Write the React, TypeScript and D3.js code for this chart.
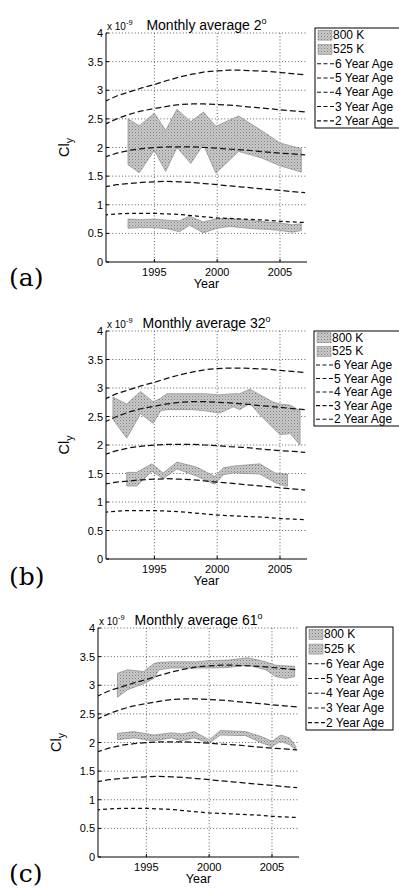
import React from "react";
import * as d3 from "d3";

// ---------- shared data ----------
const ageYears = [1991,1992,1993,1994,1995,1996,1997,1998,1999,2000,2001,2002,2003,2004,2005,2006,2007];
const age6 = [2.80,2.90,2.97,3.04,3.10,3.17,3.23,3.28,3.32,3.34,3.35,3.35,3.34,3.33,3.31,3.29,3.27];
const age5 = [2.40,2.50,2.58,2.64,2.68,2.72,2.75,2.76,2.76,2.75,2.74,2.72,2.70,2.68,2.66,2.64,2.62];
const age4 = [1.83,1.90,1.95,1.98,2.00,2.01,2.01,2.01,2.00,1.99,1.97,1.96,1.94,1.92,1.90,1.89,1.87];
const age3 = [1.31,1.35,1.37,1.39,1.40,1.41,1.40,1.39,1.37,1.35,1.33,1.31,1.29,1.27,1.25,1.23,1.21];
const age2 = [0.82,0.84,0.85,0.85,0.85,0.84,0.83,0.81,0.79,0.77,0.76,0.75,0.74,0.73,0.71,0.70,0.69];

const ageLabels = ["6 Year Age", "5 Year Age", "4 Year Age", "3 Year Age", "2 Year Age"];
const bandLabels = ["800 K", "525 K"];
const yTicks = [0, 0.5, 1, 1.5, 2, 2.5, 3, 3.5, 4];
const xTicks = [1995, 2000, 2005];
const titles = ["2", "32", "61"];
const panelTags = ["(a)", "(b)", "(c)"];

// ---------- panel (a) ----------
const a800Years = [1992.9,1993.8,1995.0,1995.9,1996.8,1997.9,1998.9,1999.9,2001.7,2003.5,2005.0,2006.7];
const a800Low   = [1.70,1.56,1.95,1.58,2.00,1.72,2.05,1.55,1.93,1.82,1.68,1.57];
const a800High  = [2.50,2.38,2.60,2.30,2.67,2.45,2.62,2.37,2.55,2.30,2.08,1.98];
const a525Years = [1992.9,1994.0,1995.0,1996.0,1997.0,1997.8,1998.9,2000.0,2001.0,2002.0,2003.0,2004.0,2005.0,2006.0,2006.7];
const a525Low   = [0.59,0.60,0.60,0.58,0.53,0.64,0.51,0.59,0.62,0.60,0.58,0.57,0.55,0.52,0.55];
const a525High  = [0.75,0.74,0.75,0.73,0.72,0.80,0.70,0.76,0.76,0.74,0.72,0.70,0.68,0.65,0.67];

// ---------- panel (b) ----------
const b800Years = [1991.7,1992.8,1993.9,1994.9,1995.5,1996.0,1997.0,1998.0,1999.0,2000.2,2001.3,2001.8,2002.6,2003.4,2004.5,2005.0,2005.8,2006.6];
const b800Low   = [2.45,2.12,2.55,2.38,2.60,2.62,2.62,2.62,2.60,2.56,2.67,2.62,2.73,2.53,2.29,2.18,2.20,2.00];
const b800High  = [2.84,2.72,2.94,2.76,2.82,2.90,2.90,2.90,2.90,2.88,2.90,2.90,2.98,2.88,2.75,2.72,2.70,2.60];
const b525Years = [1992.8,1993.6,1994.8,1995.7,1996.8,1998.4,1999.8,2000.5,2001.3,2003.4,2004.6,2005.4,2005.6];
const b525Low   = [1.28,1.28,1.54,1.41,1.58,1.45,1.31,1.48,1.51,1.49,1.34,1.28,1.28];
const b525High  = [1.52,1.52,1.67,1.51,1.70,1.61,1.45,1.60,1.63,1.67,1.51,1.49,1.49];

// ---------- panel (c) ----------
const c800Years = [1992.7,1993.5,1994.8,1995.6,1996.0,1997.0,1998.0,1999.0,2000.0,2001.5,2003.1,2004.5,2005.3,2006.1,2006.8];
const c800Low   = [2.79,2.92,3.03,3.12,3.27,3.30,3.30,3.30,3.30,3.31,3.35,3.27,3.15,3.12,3.15];
const c800High  = [3.21,3.27,3.24,3.38,3.40,3.41,3.41,3.41,3.43,3.44,3.48,3.41,3.35,3.34,3.33];
const c525Years = [1992.7,1994.0,1995.6,1997.0,1997.8,1998.8,2000.0,2000.9,2002.9,2004.2,2005.0,2005.7,2006.4,2006.9];
const c525Low   = [2.05,2.08,2.03,2.08,2.03,2.08,1.99,2.13,2.12,1.99,1.93,2.02,1.96,1.87];
const c525High  = [2.16,2.19,2.13,2.17,2.15,2.19,2.05,2.21,2.19,2.10,2.02,2.13,2.08,1.93];

const bands = [
  [[a800Years, a800Low, a800High], [a525Years, a525Low, a525High]],
  [[b800Years, b800Low, b800High], [b525Years, b525Low, b525High]],
  [[c800Years, c800Low, c800High], [c525Years, c525Low, c525High]],
];
const ages = [age6, age5, age4, age3, age2];

// ---------- layout ----------
const layouts = [
  { left: 106, right: 307, top: 33, bottom: 262, legX: 315, legY: 28, legW: 92, legH: 100, tagY: 286 },
  { left: 106, right: 307, top: 331, bottom: 559, legX: 314, legY: 331, legW: 92, legH: 95, tagY: 585 },
  { left: 98, right: 299, top: 628, bottom: 857, legX: 306, legY: 627, legW: 87, legH: 103, tagY: 882 },
];
const ageDash = ["6,3", "6,3", "6,3", "6,3", "4,3"];
const FONT = "'Liberation Sans', Arial, Helvetica, sans-serif";

function Panel({ idx }: { idx: number }) {
  const L = layouts[idx];
  const x = d3.scaleLinear().domain([1991.15, 2007.15]).range([L.left, L.right]);
  const y = d3.scaleLinear().domain([0, 4]).range([L.bottom, L.top]);
  const area = d3.area<[number, number, number]>()
    .x((d) => x(d[0])).y0((d) => y(d[1])).y1((d) => y(d[2]));
  const line = d3.line<[number, number]>().x((d) => x(d[0])).y((d) => y(d[1]));
  const clipId = `clip${idx}`;
  const cx = (L.left + L.right) / 2;
  const rowH = L.legH / 7;
  return (
    <g>
      <clipPath id={clipId}>
        <rect x={L.left} y={L.top} width={L.right - L.left} height={L.bottom - L.top} />
      </clipPath>
      {/* grid */}
      {yTicks.filter((t) => t > 0).map((t) => (
        <line key={"gy" + t} x1={L.left} x2={L.right} y1={y(t)} y2={y(t)}
          stroke="#333" strokeWidth={0.8} strokeDasharray="1,2.2" />
      ))}
      {xTicks.map((t) => (
        <line key={"gx" + t} x1={x(t)} x2={x(t)} y1={L.top} y2={L.bottom}
          stroke="#333" strokeWidth={0.8} strokeDasharray="1,2.2" />
      ))}
      <g clipPath={`url(#${clipId})`}>
        {bands[idx].map((b, bi) => {
          const pts = b[0].map((yr, i) => [yr, b[1][i], b[2][i]] as [number, number, number]);
          return <path key={"b" + bi} d={area(pts) || ""} fill="url(#stip)" stroke="#7c7c7c" strokeWidth={0.6} />;
        })}
        {ages.map((arr, ai) => (
          <path key={"a" + ai} d={line(ageYears.map((yr, i) => [yr, arr[i]] as [number, number])) || ""}
            fill="none" stroke="#111" strokeWidth={1.25} strokeDasharray={ageDash[ai]} />
        ))}
      </g>
      {/* axes */}
      <line x1={L.left} x2={L.left} y1={L.top} y2={L.bottom} stroke="#000" strokeWidth={1} />
      <line x1={L.left} x2={L.right} y1={L.bottom} y2={L.bottom} stroke="#000" strokeWidth={1} />
      {yTicks.map((t) => (
        <g key={"yt" + t}>
          <line x1={L.left} x2={L.left + 3} y1={y(t)} y2={y(t)} stroke="#000" />
          <text x={L.left - 3} y={y(t) + 4} textAnchor="end" fontSize={11} fontFamily={FONT}>{String(t)}</text>
        </g>
      ))}
      {xTicks.map((t) => (
        <g key={"xt" + t}>
          <line x1={x(t)} x2={x(t)} y1={L.bottom} y2={L.bottom - 3} stroke="#000" />
          <text x={x(t)} y={L.bottom + 14} textAnchor="middle" fontSize={11} fontFamily={FONT}>{String(t)}</text>
        </g>
      ))}
      <text x={cx} y={L.bottom + 26} textAnchor="middle" fontSize={12.5} fontFamily={FONT}>Year</text>
      <text transform={`translate(${L.left - 37},${(L.top + L.bottom) / 2}) rotate(-90)`} textAnchor="middle"
        fontSize={14.5} fontFamily={FONT}>
        Cl<tspan fontSize={10.5} dy={4}>y</tspan>
      </text>
      <text x={L.left + 1} y={L.top - 3} fontSize={10} fontFamily={FONT}>
        x 10<tspan fontSize={7.5} dy={-5}>-9</tspan>
      </text>
      <text x={cx} y={L.top - 3} textAnchor="middle" fontSize={14} fontFamily={FONT}>
        {"Monthly average " + titles[idx]}<tspan fontSize={9} dy={-6}>o</tspan>
      </text>
      {/* legend */}
      <rect x={L.legX} y={L.legY} width={L.legW} height={L.legH} fill="#fff" stroke="#000" strokeWidth={1} />
      {bandLabels.map((lab, i) => {
        const cy = L.legY + rowH * (i + 0.5);
        return (
          <g key={"lb" + i}>
            <rect x={L.legX + 3} y={cy - 5} width={14} height={10} fill="url(#stip)" stroke="#7c7c7c" strokeWidth={0.5} />
            <text x={L.legX + 18} y={cy + 4} fontSize={12} fontFamily={FONT}>{lab}</text>
          </g>
        );
      })}
      {ageLabels.map((lab, i) => {
        const cy = L.legY + rowH * (i + 2.5);
        return (
          <g key={"la" + i}>
            <line x1={L.legX + 2} x2={L.legX + 19} y1={cy} y2={cy} stroke="#111" strokeWidth={1.1} strokeDasharray="4,2.5" />
            <text x={L.legX + 20} y={cy + 4} fontSize={12} fontFamily={FONT}>{lab}</text>
          </g>
        );
      })}
      <text x={9} y={L.tagY} fontSize={25} fontFamily="'DejaVu Serif', 'Liberation Serif', serif">{panelTags[idx]}</text>
    </g>
  );
}

export default function App() {
  return (
    <svg width={399} height={895} style={{ position: "absolute", left: 0, top: 0, display: "block", background: "#fff" }}>
      <defs>
        <pattern id="stip" width={3} height={3} patternUnits="userSpaceOnUse">
          <rect width={3} height={3} fill="#c9c9c9" />
          <rect x={0} y={0} width={1} height={1} fill="#7e7e7e" />
          <rect x={1.5} y={1.5} width={1} height={1} fill="#9a9a9a" />
        </pattern>
      </defs>
      <rect width={399} height={895} fill="#fff" />
      {[0, 1, 2].map((i) => <Panel key={i} idx={i} />)}
    </svg>
  );
}
